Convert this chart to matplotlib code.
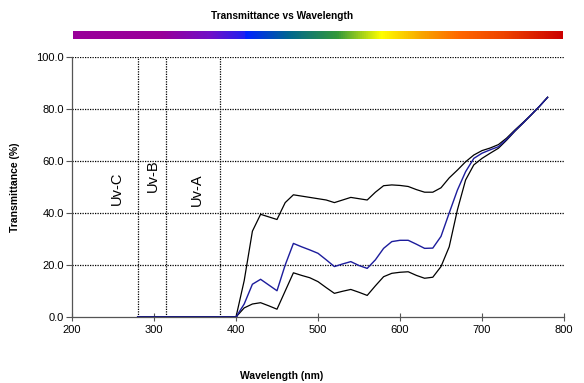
import numpy as np
import matplotlib
matplotlib.use("Agg")
import matplotlib.pyplot as plt
from matplotlib.colors import LinearSegmentedColormap

plt.rcParams['font.family'] = ['Liberation Sans', 'DejaVu Sans']

wavelength = list(range(280, 790, 10))
zeros = [0.0] * 13  # 280..400
upper = zeros + [14, 33, 39.5, 38.5, 37.5, 44, 47, 46.5, 46, 45.5, 45, 44, 45, 46, 45.5, 45,
                 48, 50.5, 50.8, 50.6, 50.2, 49, 48, 48, 49.7, 53.5, 56.5, 59.7, 62.3, 64,
                 65, 66.3, 68.8, 71.9, 74.8, 77.8, 81, 84.5]
middle = zeros + [5, 12.6, 14.5, 12.3, 10.1, 20, 28.3, 27, 25.8, 24.5, 22, 19.4, 20.4, 21.3, 19.8,
                  18.7, 22, 26.4, 29, 29.5, 29.5, 28, 26.4, 26.5, 31, 40, 48.8, 55.9, 61, 63,
                  64.3, 65.5, 68.3, 71.6, 74.6, 77.8, 81, 84.5]
lower = zeros + [3.5, 5, 5.5, 4.3, 3, 10, 17, 16, 15.1, 13.6, 11.3, 9.1, 9.9, 10.6, 9.5, 8.3,
                 12, 15.5, 16.8, 17.2, 17.4, 16, 14.9, 15.3, 19.4, 27, 41.2, 52.7, 58.5, 61,
                 63, 64.9, 68, 71.4, 74.5, 77.7, 81, 84.5]
uv_bounds = [280, 315, 380]
uv_labels = ["Uv-C", "Uv-B", "Uv-A"]
uv_label_pos = [(255, 49.5), (299, 54.5), (352, 48.8)]
y_ticks = [0, 20, 40, 60, 80, 100]
x_ticks = [200, 300, 400, 500, 600, 700, 800]

W, H = 584, 383
fig = plt.figure(figsize=(W / 100, H / 100), dpi=100)
ax = fig.add_axes([72 / W, 1 - 317 / H, 492 / W, 260 / H])

for y in y_ticks[1:]:
    ax.axhline(y, color='black', lw=0.9, ls=(0, (1, 1)), zorder=1)
for x in uv_bounds:
    ax.axvline(x, color='black', lw=0.9, ls=(0, (1, 1)), zorder=1)

ax.plot(wavelength, upper, color='black', lw=0.9, zorder=3)
ax.plot(wavelength, lower, color='black', lw=0.9, zorder=3)
ax.plot(wavelength, middle, color='#1c1c9c', lw=1.0, zorder=4)
ax.plot(wavelength[:13], middle[:13], color='#1c1c7c', lw=1.8, zorder=4)

for lab, (x, y) in zip(uv_labels, uv_label_pos):
    ax.text(x, y, lab, rotation=90, ha='center', va='center', fontsize=10.5)

ax.set_xlim(200, 800)
ax.set_ylim(0, 100)
ax.set_xticks(x_ticks)
ax.set_yticks(y_ticks)
ax.set_yticklabels([f"{v:.1f}" for v in y_ticks])
ax.tick_params(axis='x', direction='inout', length=6, width=0.8, color='#555555',
               labelsize=8, pad=3)
ax.tick_params(axis='y', direction='out', length=4, width=0.8, color='#555555',
               labelsize=8, pad=2)
for s in ['top', 'right']:
    ax.spines[s].set_visible(False)
for s in ['left', 'bottom']:
    ax.spines[s].set_color('#555555')
    ax.spines[s].set_linewidth(0.9)
ax.set_xlabel("Wavelength (nm)", fontsize=7.5, fontweight='bold')
ax.xaxis.set_label_coords((282 - 72) / 492, -(376 - 317) / 260)
ax.xaxis.label.set_va('center')
ax.set_ylabel("Transmittance (%)", fontsize=7.5, fontweight='bold')
ax.yaxis.set_label_coords(-(72 - 15) / 492, 0.5)
ax.yaxis.label.set_va('center')

# spectrum bar
bar = fig.add_axes([73 / W, 1 - 39.5 / H, 490 / W, 8.5 / H])
cmap = LinearSegmentedColormap.from_list('spec', [
    (0.0, '#990099'), (0.18, '#990099'), (0.28, '#7010c8'), (0.35, '#2020f0'),
    (0.35 + 0.003, '#0022ff'), (0.44, '#006690'), (0.54, '#33993a'), (0.63, '#ffff00'),
    (0.71, '#f8a800'), (0.79, '#ff6600'), (0.88, '#ee4400'), (1.0, '#cc0000')])
bar.imshow(np.linspace(0, 1, 512)[None, :], aspect='auto', cmap=cmap)
bar.axis('off')

fig.text(282 / W, 1 - 16 / H, "Transmittance vs Wavelength", ha='center', va='center',
         fontsize=7.3, fontweight='bold')

fig.savefig("out.png", dpi=100)
